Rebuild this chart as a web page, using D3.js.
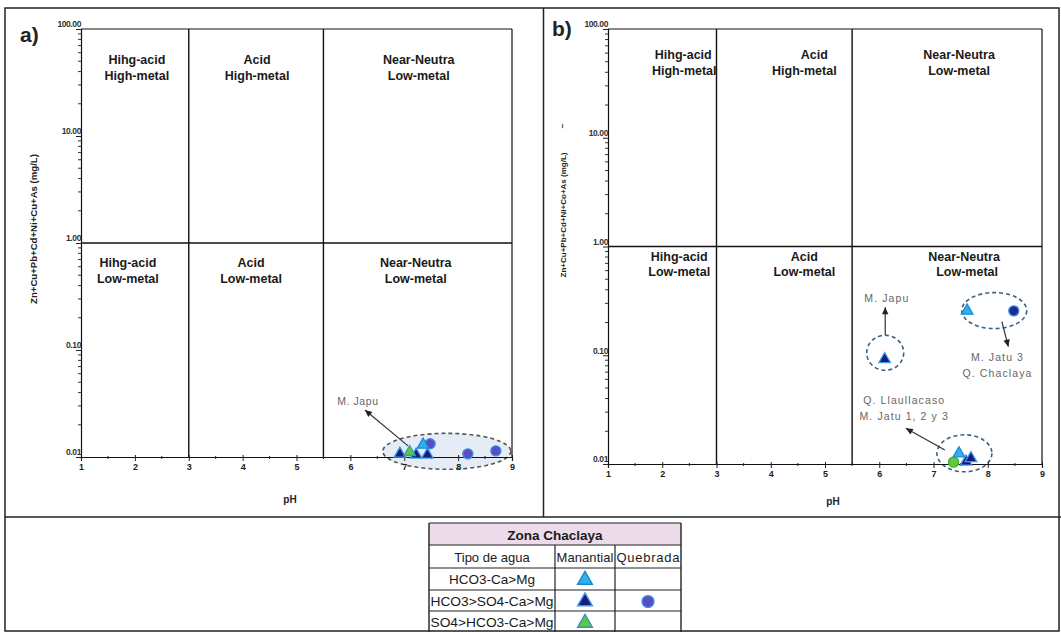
<!DOCTYPE html>
<html><head><meta charset="utf-8">
<script src="https://cdn.jsdelivr.net/npm/d3@7"></script>
<style>
html,body{margin:0;padding:0;background:#fff;}
svg{display:block;font-family:Arial,"Liberation Sans",sans-serif;}
</style></head>
<body><svg id="chart" width="1061" height="632"></svg>
<script>
// ---------- data ----------
const phTicks = [1, 2, 3, 4, 5, 6, 7, 8, 9];
const phMinorTicks = [1.5, 2.5, 3.5, 4.5, 5.5, 6.5, 7.5, 8.5];
const metalTicks = [0.01, 0.1, 1, 10, 100];
const metalTickLabels = ["0.01", "0.10", "1.00", "10.00", "100.00"];
const phBoundaries = [3, 5.5];
const metalBoundary = 1;
const topRegionLabels = [["Hihg-acid", "High-metal"], ["Acid", "High-metal"], ["Near-Neutra", "Low-metal"]];
const bottomRegionLabels = [["Hihg-acid", "Low-metal"], ["Acid", "Low-metal"], ["Near-Neutra", "Low-metal"]];
const regionCentersPH = [2, 4.25, 7.25];

// panel a
const aCyanTriPH = [7.35];            const aCyanTriVal = [0.0130];
const aNavyTriPH = [6.92, 7.22, 7.43]; const aNavyTriVal = [0.0107, 0.0105, 0.0105];
const aGreenTriPH = [7.10];           const aGreenTriVal = [0.0111];
const aCirclePH = [7.48, 8.18, 8.70]; const aCircleVal = [0.0133, 0.0107, 0.0114];

// panel b
const bCyanTriPH = [7.62, 7.47];       const bCyanTriVal = [0.256, 0.0125];
const bNavyTriPH = [6.10, 7.60, 7.69]; const bNavyTriVal = [0.092, 0.0105, 0.0113];
const bGreenCirclePH = [7.37];         const bGreenCircleVal = [0.0104];
const bCirclePH = [8.48];              const bCircleVal = [0.256];

const legendTitle = "Zona Chaclaya";
const legendHeader = ["Tipo de agua", "Manantial", "Quebrada"];
const legendRows = ["HCO3-Ca>Mg", "HCO3>SO4-Ca>Mg", "SO4>HCO3-Ca>Mg"];

// ---------- drawing ----------
const svg = d3.select("#chart");
const C = {
  cyan: "#2bb3ea", cyanEdge: "#1f86d6",
  navy: "#1b1a7e", navyEdge: "#3a9be6",
  green: "#5fc93c", greenEdge: "#2a98c8",
  purple: "#5a4cc2", purpleEdge: "#3b8fe0",
  darkCircle: "#1f2a8c"
};

// frame
svg.append("rect").attr("x", 5).attr("y", 8).attr("width", 1054).attr("height", 623)
  .attr("fill", "none").attr("stroke", "#222").attr("stroke-width", 1.5);
svg.append("line").attr("x1", 5).attr("x2", 1061).attr("y1", 517).attr("y2", 517)
  .attr("stroke", "#222").attr("stroke-width", 1.5);
svg.append("line").attr("x1", 543.5).attr("x2", 543.5).attr("y1", 8).attr("y2", 517)
  .attr("stroke", "#222").attr("stroke-width", 1.5);

function panel(opt) {
  const x = d3.scaleLinear().domain([1, 9]).range(opt.xr);
  const y = d3.scaleLog().domain([0.01, 100]).range(opt.yr);
  const g = svg.append("g");

  opt.ellipses.forEach(e => {
    g.append("ellipse").attr("cx", x(e.ph)).attr("cy", y(e.v))
      .attr("rx", e.rx).attr("ry", e.ry)
      .attr("fill", e.fill).attr("stroke", e.stroke)
      .attr("stroke-width", 1.6).attr("stroke-dasharray", "4,3");
  });

  phBoundaries.forEach(p => {
    g.append("line").attr("x1", x(p)).attr("x2", x(p)).attr("y1", y(100)).attr("y2", y(0.01))
      .attr("stroke", "#111").attr("stroke-width", 1.4);
  });
  g.append("line").attr("x1", x(1)).attr("x2", x(9)).attr("y1", y(metalBoundary)).attr("y2", y(metalBoundary))
    .attr("stroke", "#111").attr("stroke-width", 1.4);
  g.append("line").attr("x1", x(1)).attr("x2", x(9)).attr("y1", y(100)).attr("y2", y(100))
    .attr("stroke", "#111").attr("stroke-width", 1.2);
  g.append("line").attr("x1", x(9)).attr("x2", x(9)).attr("y1", y(100)).attr("y2", y(0.01))
    .attr("stroke", "#111").attr("stroke-width", 1.2);

  // x axis
  const xa = g.append("g").attr("transform", `translate(0,${y(0.01)})`)
    .call(d3.axisBottom(x).tickValues(phTicks).tickFormat(d3.format("d")).tickSize(4).tickPadding(3));
  xa.append("g").selectAll("line").data(phMinorTicks).join("line")
    .attr("x1", d => x(d)).attr("x2", d => x(d)).attr("y1", -1).attr("y2", 2).attr("stroke", "#222");
  xa.select(".domain").attr("stroke", "#111").attr("stroke-width", 1.2);
  xa.selectAll(".tick line").attr("stroke", "#222").attr("y1", -2);
  xa.selectAll("text").attr("font-size", 9).attr("font-weight", "bold").attr("fill", "#222");

  // y axis
  const minor = [];
  for (let d = 0.01; d < 100; d *= 10) for (let k = 2; k <= 9; k++) minor.push(d * k);
  const ya = g.append("g").attr("transform", `translate(${x(1)},0)`)
    .call(d3.axisLeft(y).tickValues(metalTicks).tickFormat((d, i) => metalTickLabels[i]).tickSize(5));
  ya.append("g").selectAll("line").data(minor).join("line")
    .attr("x1", -3).attr("x2", 0).attr("y1", d => y(d)).attr("y2", d => y(d)).attr("stroke", "#333");
  ya.select(".domain").attr("stroke", "#111").attr("stroke-width", 1.2);
  ya.selectAll(".tick line").attr("stroke", "#222");
  ya.selectAll(".tick text").attr("x", 0).attr("dy", "-0.25em").attr("font-size", 8.5)
    .attr("font-weight", "bold").attr("fill", "#333").attr("letter-spacing", "-0.4");

  // axis titles
  g.append("text").attr("x", opt.pHx).attr("y", opt.pHy).attr("text-anchor", "middle")
    .attr("font-size", 10).attr("font-weight", "bold").attr("fill", "#222").text("pH");
  g.append("text").attr("transform", `translate(${opt.tx},${opt.ty}) rotate(-90)`)
    .attr("text-anchor", "middle").attr("font-size", opt.tfs).attr("font-weight", "bold").attr("fill", "#222")
    .text(opt.ytitle);
  if (opt.dash) {
    g.append("text").attr("transform", `translate(${opt.dash[0]},${opt.dash[1]}) rotate(-90)`)
      .attr("text-anchor", "middle").attr("font-size", 9).attr("font-weight", "bold").attr("fill", "#333").text("\u2013");
  }

  g.append("text").attr("x", opt.lx).attr("y", opt.ly).attr("font-size", 21).attr("font-weight", "bold")
    .attr("fill", "#222").text(opt.letter);

  // region labels
  const rl = (labels, yTop, offsets) => labels.forEach((ls, i) => {
    ls.forEach((s, j) => {
      g.append("text").attr("x", x(regionCentersPH[i]) + offsets[i][j]).attr("y", yTop + j * 15.5)
        .attr("text-anchor", "middle").attr("font-size", 12.5).attr("fill", "#1a1a1a")
        .attr("font-weight", "bold").text(s);
    });
  });
  rl(topRegionLabels, y(100) + opt.topLabelDy, opt.topOffsets);
  rl(bottomRegionLabels, y(metalBoundary) + opt.botLabelDy, opt.botOffsets);

  // annotation labels & arrows
  opt.notes.forEach(n => {
    n.lines.forEach((s, j) => {
      g.append("text").attr("x", x(n.ph)).attr("y", y(n.v) + j * 16).attr("text-anchor", "middle")
        .attr("font-size", 10.5).attr("fill", "#666").attr("letter-spacing", n.ls).text(s);
    });
    const x1 = x(n.from[0]), y1 = y(n.from[1]), x2 = x(n.to[0]), y2 = y(n.to[1]);
    g.append("line").attr("x1", x1).attr("y1", y1).attr("x2", x2).attr("y2", y2)
      .attr("stroke", "#333").attr("stroke-width", 1.2);
    const ang = Math.atan2(y2 - y1, x2 - x1) * 180 / Math.PI;
    g.append("path").attr("d", "M0,0 L-7,-3.2 L-7,3.2 Z").attr("fill", "#222")
      .attr("transform", `translate(${x2},${y2}) rotate(${ang})`);
  });

  // markers
  opt.series.forEach(s => {
    const sym = d3.symbol().type(s.shape === "tri" ? d3.symbolTriangle : d3.symbolCircle).size(s.shape === "tri" ? 58 : 80);
    g.append("g").selectAll("path").data(s.ph.map((p, i) => [p, s.v[i]])).join("path")
      .attr("d", sym).attr("transform", d => `translate(${x(d[0])},${y(d[1])})`)
      .attr("fill", s.fill).attr("stroke", s.stroke).attr("stroke-width", 1.3);
  });
}

panel({
  letter: "a)", lx: 20, ly: 42,
  xr: [81, 512], yr: [457, 29],
  pHx: 290, pHy: 503, tx: 37, ty: 229, tfs: 9.6,
  ytitle: "Zn+Cu+Pb+Cd+Ni+Cu+As (mg/L)",
  topLabelDy: 35, botLabelDy: 24,
  topOffsets: [[2, 2], [1, 1], [1, 1]], botOffsets: [[-7, -7], [-5, -5], [-2, -2]],
  ellipses: [{ ph: 7.79, v: 0.0113, rx: 64, ry: 18, fill: "#e6ecf5", stroke: "#555" }],
  notes: [{ ph: 6.14, v: 0.0306, ls: 0.6, lines: ["M. Japu"], from: [7.07, 0.0127], to: [6.27, 0.0275] }],
  series: [
    { shape: "circle", ph: aCirclePH, v: aCircleVal, fill: C.purple, stroke: C.purpleEdge },
    { shape: "tri", ph: aNavyTriPH, v: aNavyTriVal, fill: C.navy, stroke: C.navyEdge },
    { shape: "tri", ph: aCyanTriPH, v: aCyanTriVal, fill: C.cyan, stroke: C.cyanEdge },
    { shape: "tri", ph: aGreenTriPH, v: aGreenTriVal, fill: C.green, stroke: C.greenEdge }
  ]
});

panel({
  letter: "b)", lx: 552, ly: 36,
  xr: [608, 1042], yr: [464, 29],
  pHx: 833, pHy: 505, tx: 566, ty: 215, tfs: 8,
  dash: [565, 126],
  ytitle: "Zn+Cu+Pb+Cd+Ni+Co+As (mg/L)",
  topLabelDy: 30, botLabelDy: 14,
  topOffsets: [[21, 22], [30, 20], [12, 12]], botOffsets: [[17, 17], [20, 20], [17, 20]],
  ellipses: [
    { ph: 6.11, v: 0.1053, rx: 18.5, ry: 17.5, fill: "none", stroke: "#3f5f80" },
    { ph: 8.12, v: 0.2575, rx: 32.5, ry: 18, fill: "none", stroke: "#3f5f80" },
    { ph: 7.57, v: 0.01254, rx: 27.5, ry: 18.5, fill: "none", stroke: "#3f5f80" }
  ],
  notes: [
    { ph: 6.14, v: 0.309, ls: 1.1, lines: ["M. Japu"], from: [6.11, 0.1535], to: [6.11, 0.276] },
    { ph: 8.18, v: 0.0885, ls: 1.1, lines: ["M. Jatu 3", "Q. Chaclaya"], from: [8.26, 0.2035], to: [8.38, 0.12] },
    { ph: 6.46, v: 0.0356, ls: 1.1, lines: ["Q. Llaullacaso", "M. Jatu 1, 2 y 3"], from: [7.21, 0.01345], to: [6.49, 0.0213] }
  ],
  series: [
    { shape: "circle", ph: bCirclePH, v: bCircleVal, fill: C.darkCircle, stroke: C.purpleEdge },
    { shape: "circle", ph: bGreenCirclePH, v: bGreenCircleVal, fill: C.green, stroke: "#3fae3a" },
    { shape: "tri", ph: bCyanTriPH, v: bCyanTriVal, fill: C.cyan, stroke: C.cyanEdge },
    { shape: "tri", ph: bNavyTriPH, v: bNavyTriVal, fill: C.navy, stroke: C.navyEdge }
  ]
});

// ---------- legend table ----------
const colX = [429, 555, 615, 681];
const rowY = [523, 545, 568, 590, 611, 633];
const lg = svg.append("g");
lg.append("rect").attr("x", colX[0]).attr("y", rowY[0]).attr("width", colX[3] - colX[0]).attr("height", rowY[1] - rowY[0])
  .attr("fill", "#ecdcea");
rowY.forEach(yy => lg.append("line").attr("x1", colX[0]).attr("x2", colX[3]).attr("y1", yy).attr("y2", yy)
  .attr("stroke", "#222").attr("stroke-width", 1.2));
[colX[0], colX[3]].forEach(xx => lg.append("line").attr("x1", xx).attr("x2", xx).attr("y1", rowY[0]).attr("y2", rowY[5])
  .attr("stroke", "#222").attr("stroke-width", 1.4));
[colX[1], colX[2]].forEach(xx => lg.append("line").attr("x1", xx).attr("x2", xx).attr("y1", rowY[1]).attr("y2", rowY[5])
  .attr("stroke", "#222").attr("stroke-width", 1.2));
lg.append("text").attr("x", (colX[0] + colX[3]) / 2).attr("y", rowY[0] + 16.5).attr("text-anchor", "middle")
  .attr("font-size", 13.5).attr("font-weight", "bold").attr("fill", "#1a1a1a").text(legendTitle);
legendHeader.forEach((h, i) => lg.append("text").attr("x", (colX[i] + colX[i + 1]) / 2).attr("y", rowY[1] + 16.5)
  .attr("text-anchor", "middle").attr("font-size", 13).attr("fill", "#1a1a1a")
  .attr("textLength", i === 0 ? null : (colX[i + 1] - colX[i] - 3)).text(h));
legendRows.forEach((r, i) => lg.append("text").attr("x", (colX[0] + colX[1]) / 2).attr("y", rowY[i + 2] + 16)
  .attr("text-anchor", "middle").attr("font-size", 13.5).attr("fill", "#1a1a1a")
  .attr("textLength", i === 0 ? null : 123).attr("lengthAdjust", "spacingAndGlyphs").text(r));
const legendMarks = [
  { col: 1, row: 0, shape: "tri", fill: C.cyan, stroke: C.cyanEdge },
  { col: 1, row: 1, shape: "tri", fill: C.navy, stroke: C.navyEdge },
  { col: 2, row: 1, shape: "circle", fill: C.purple, stroke: C.purpleEdge },
  { col: 1, row: 2, shape: "tri", fill: C.green, stroke: C.greenEdge }
];
legendMarks.forEach(m => {
  const sym = d3.symbol().type(m.shape === "tri" ? d3.symbolTriangle : d3.symbolCircle).size(m.shape === "tri" ? 95 : 110);
  lg.append("path").attr("d", sym)
    .attr("transform", `translate(${(colX[m.col] + colX[m.col + 1]) / 2},${(rowY[m.row + 2] + rowY[m.row + 3]) / 2 + 1})`)
    .attr("fill", m.fill).attr("stroke", m.stroke).attr("stroke-width", 1.4);
});
</script></body></html>
